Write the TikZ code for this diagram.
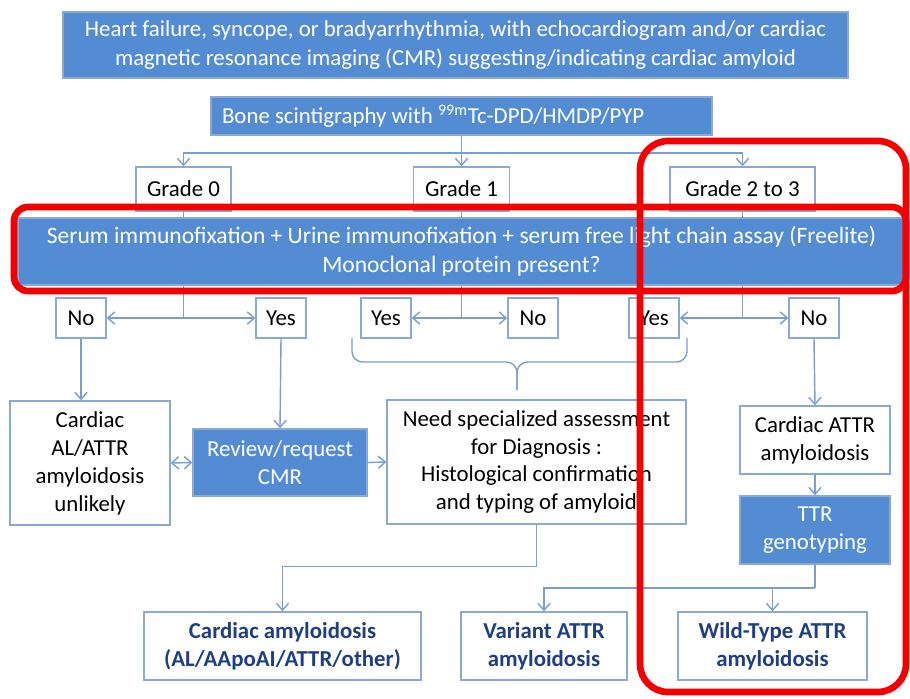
\documentclass[tikz,border=0pt]{standalone}
\usepackage{fontspec}
\setmainfont{Carlito}
\usetikzlibrary{arrows.meta, positioning, calc}

\definecolor{accent}{RGB}{84,140,212}
\definecolor{boxedge}{RGB}{139,170,210}
\definecolor{lnblue}{RGB}{122,158,205}
\definecolor{navy}{RGB}{31,63,128}
\definecolor{ringred}{RGB}{245,0,0}

\begin{document}
\begin{tikzpicture}[x=0.02cm, y=-0.02cm,
    >={Straight Barb[length=4pt,width=7pt]},
    every node/.style={font=\fontsize{13}{15.9}\selectfont, align=center, inner sep=0pt},
    bluebox/.style={draw=boxedge, line width=0.8pt, fill=accent, text=white},
    whitebox/.style={draw=boxedge, line width=0.8pt, fill=white},
    answer/.style={whitebox, minimum width=1cm, minimum height=0.8cm},
    outbox/.style={whitebox, text=navy, minimum height=1.36cm,
                   font=\fontsize{13}{15.9}\selectfont\bfseries},
    conn/.style={draw=lnblue, line width=0.8pt},
    ring/.style={draw=ringred, line width=3.8pt, rounded corners=#1}]
  \useasboundingbox (0,0) rectangle (910,698);

  % referral and scintigraphy
  \node[bluebox, minimum width=15.7cm, minimum height=1.32cm,
        font=\fontsize{13}{16.4}\selectfont] (top) at (455.5,45)
    {Heart failure, syncope, or bradyarrhythmia, with echocardiogram and/or cardiac\\
     magnetic resonance imaging (CMR) suggesting/indicating cardiac amyloid};
  \node[bluebox, minimum height=0.76cm, text width=9.58cm, inner xsep=0.22cm,
        align=flush left] (bone) at (461.5,116)
    {Bone scintigraphy with \textsuperscript{99m}Tc-DPD/HMDP/PYP};

  % grades
  \node[whitebox, minimum width=1.9cm, minimum height=0.88cm] (g0) at (183.5,189) {Grade 0};
  \node[whitebox, minimum width=1.92cm, minimum height=0.88cm] (g1) at (461.5,189) {Grade 1};
  \node[whitebox, minimum width=2.9cm, minimum height=0.88cm] (g2) at (742.5,189) {Grade 2 to 3};

  \coordinate (gsplit) at (461.5,153);
  \draw[conn] (bone.south) -- (gsplit);
  \draw[conn,->] (gsplit) -| (g0.north);
  \draw[conn,->] (gsplit) -- (g1.north);
  \draw[conn,->] (gsplit) -| (g2.north);

  % monoclonal protein test
  \node[bluebox, minimum width=17.74cm, minimum height=1.34cm,
        font=\fontsize{13.4}{16.4}\selectfont] (serum) at (461.5,251.5)
    {Serum immunofixation + Urine immunofixation + serum free light chain assay (Freelite)\\
     Monoclonal protein present?};
  \foreach \g in {g0,g1,g2}
    \draw[conn] (\g.south) -- (\g.south |- serum.north);

  % yes / no answers
  \node[answer] (no0)  at (81,318)  {No};
  \node[answer] (yes0) at (281,318) {Yes};
  \node[answer] (yes1) at (386,318) {Yes};
  \node[answer] (no1)  at (533,318) {No};
  \node[answer] (yes2) at (654,318) {Yes};
  \node[answer] (no2)  at (814,318) {No};

  \foreach \g/\l/\r in {g0/no0/yes0, g1/yes1/no1, g2/yes2/no2} {
    \coordinate (j\g) at (\g.south |- \l);
    \draw[conn] (\g.south |- serum.south) -- (j\g);
    \draw[conn,->] (j\g) -- (\l.east);
    \draw[conn,->] (j\g) -- (\r.west);
  }

  % brace over the positive answers
  \draw[conn, rounded corners=6pt] (352,338) |- (517,362) -- (517,390);
  \draw[conn, rounded corners=6pt] (687,338) |- (517,362) -- (517,390);

  % outcomes
  \node[whitebox, minimum width=3.2cm, minimum height=2.48cm] (card) at (90,463)
    {Cardiac\\AL/ATTR\\amyloidosis\\unlikely};
  \node[bluebox, minimum width=3.48cm, minimum height=1.34cm] (review) at (280,462.5)
    {Review/request\\CMR};
  \node[whitebox, minimum width=5.98cm, minimum height=2.48cm] (need) at (536.5,462)
    {Need specialized assessment\\for Diagnosis :\\Histological confirmation\\and typing of amyloid};
  \node[whitebox, minimum width=3cm, minimum height=1.36cm] (attr) at (815,440)
    {Cardiac ATTR\\amyloidosis};
  \node[bluebox, minimum width=3cm, minimum height=1.36cm] (ttr) at (815,530)
    {TTR\\genotyping};

  \draw[conn,->] (no0.south) -- (no0.south |- card.north);
  \draw[conn,->] (yes0.south) -- (review.north);
  \draw[conn,<->] (card.east) -- (review.west);
  \draw[conn,->] (review.east) -- (need.west);
  \draw[conn,->] (no2.south) -- (attr.north);
  \draw[conn,->] (attr.south) -- (ttr.north);

  % final diagnoses
  \node[outbox, minimum width=5.54cm] (cardamy) at (282.5,646)
    {Cardiac amyloidosis\\(AL/AApoAI/ATTR/other)};
  \node[outbox, minimum width=3.32cm] (variant) at (544,646)
    {Variant ATTR\\amyloidosis};
  \node[outbox, minimum width=3.78cm] (wild) at (772.5,646)
    {Wild-Type ATTR\\amyloidosis};

  \draw[conn,->] (need.south) -- ++(0,42) -| (cardamy.north);
  \coordinate (tsplit) at (815,588);
  \draw[conn] (ttr.south) -- (tsplit);
  \draw[conn,->] (tsplit) -| (variant.north);
  \draw[conn,->] (wild.north |- tsplit) -- (wild.north);

  % highlight rings
  \draw[ring=8pt] (14,207) rectangle (906,291);
  \draw[ring=16pt] (640,141) rectangle (906,692);
\end{tikzpicture}
\end{document}
